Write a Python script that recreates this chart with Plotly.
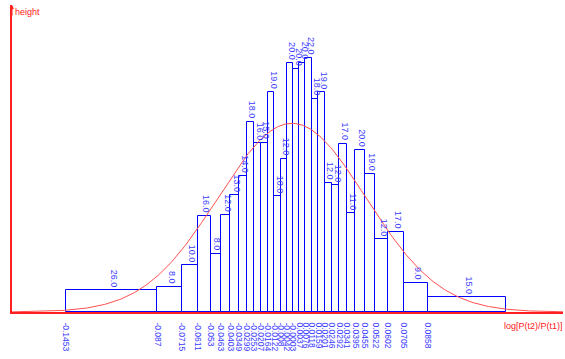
import numpy as np
import plotly.graph_objects as go

# ---- data ----
bin_edges = [-0.1453, -0.087, -0.0715, -0.0611, -0.053, -0.0463, -0.0403, -0.0349,
             -0.0299, -0.0253, -0.0207, -0.0164, -0.0122, -0.008, -0.0042, -0.0003,
             0.0037, 0.0076, 0.0118, 0.0159, 0.0201, 0.0246, 0.0292, 0.0341, 0.0395,
             0.0455, 0.0522, 0.0602, 0.0705, 0.0858, 0.1357]
bin_counts = [26, 8, 10, 16, 8, 12, 13, 14, 18, 16, 15, 19, 10, 12, 20, 20, 20, 22,
              18, 19, 12, 12, 17, 11, 20, 19, 12, 17, 9, 15]
fit_mean = -0.0010
fit_sd = 0.0472
x_title = "log[P(t2)/P(t1)]"
y_title = "height"

edges = np.array(bin_edges)
counts = np.array(bin_counts, dtype=float)
widths = np.diff(edges)
centers = edges[:-1] + widths / 2
density = counts / widths
total = counts.sum()

tick_vals = list(edges[:-1])
tick_text = [f"{v:.4f}".rstrip("0") for v in tick_vals]

x_min, x_max = -0.17978, 0.17207
y_max = 6326

BLUE = "#0000ff"
LBLUE = "#3a3aff"
RED = "#ff2020"
FONT = "Liberation Sans, Arial, sans-serif"

fig = go.Figure()
fig.add_trace(go.Bar(
    x=centers, y=density, width=widths,
    marker=dict(color="white", line=dict(color=BLUE, width=1)),
    hoverinfo="skip",
))

xs = np.linspace(x_min, x_max, 400)
ys = total * np.exp(-0.5 * ((xs - fit_mean) / fit_sd) ** 2) / (fit_sd * np.sqrt(2 * np.pi))
fig.add_trace(go.Scatter(x=xs, y=ys, mode="lines",
                         line=dict(color="#ff5050", width=1), hoverinfo="skip"))

annotations = []
for c, d, n in zip(centers, density, counts):
    annotations.append(dict(
        x=c, y=d, xref="x", yref="y", text=f"{n:.1f}", showarrow=False,
        textangle=90, xanchor="center", yanchor="bottom", yshift=1, xshift=2,
        font=dict(family=FONT, size=9, color=LBLUE),
    ))
# axis titles
annotations.append(dict(x=0, y=1, xref="paper", yref="paper", text=y_title,
                        showarrow=False, xanchor="left", yanchor="top", xshift=1, yshift=0,
                        font=dict(family=FONT, size=9, color=RED)))
annotations.append(dict(x=1, y=0, xref="paper", yref="paper", text=x_title,
                        showarrow=False, xanchor="right", yanchor="top", xshift=2, yshift=-7,
                        font=dict(family=FONT, size=9, color=RED)))
# y axis arrow head
annotations.append(dict(x=x_min, y=y_max, xref="x", yref="y", ax=0, ay=12,
                        showarrow=True, arrowhead=2, arrowsize=0.8, arrowwidth=1,
                        arrowcolor=RED, text=""))

fig.update_layout(
    width=565, height=359,
    margin=dict(l=12, r=2, t=5, b=47),
    paper_bgcolor="white", plot_bgcolor="white",
    showlegend=False,
    bargap=0,
    annotations=annotations,
    xaxis=dict(range=[x_min, x_max], showgrid=False, zeroline=False,
               showline=True, linecolor=RED, linewidth=1.5,
               tickmode="array", tickvals=tick_vals, ticktext=tick_text,
               tickangle=90, ticks="", ticklabelstandoff=7,
               tickfont=dict(family=FONT, size=8.5, color=LBLUE)),
    yaxis=dict(range=[0, y_max], showgrid=False, zeroline=False,
               showline=True, linecolor=RED, linewidth=1.5,
               showticklabels=False, ticks=""),
)

fig.write_html("out.html", config={"displayModeBar": False},
               post_script="document.body.style.margin='0';")
